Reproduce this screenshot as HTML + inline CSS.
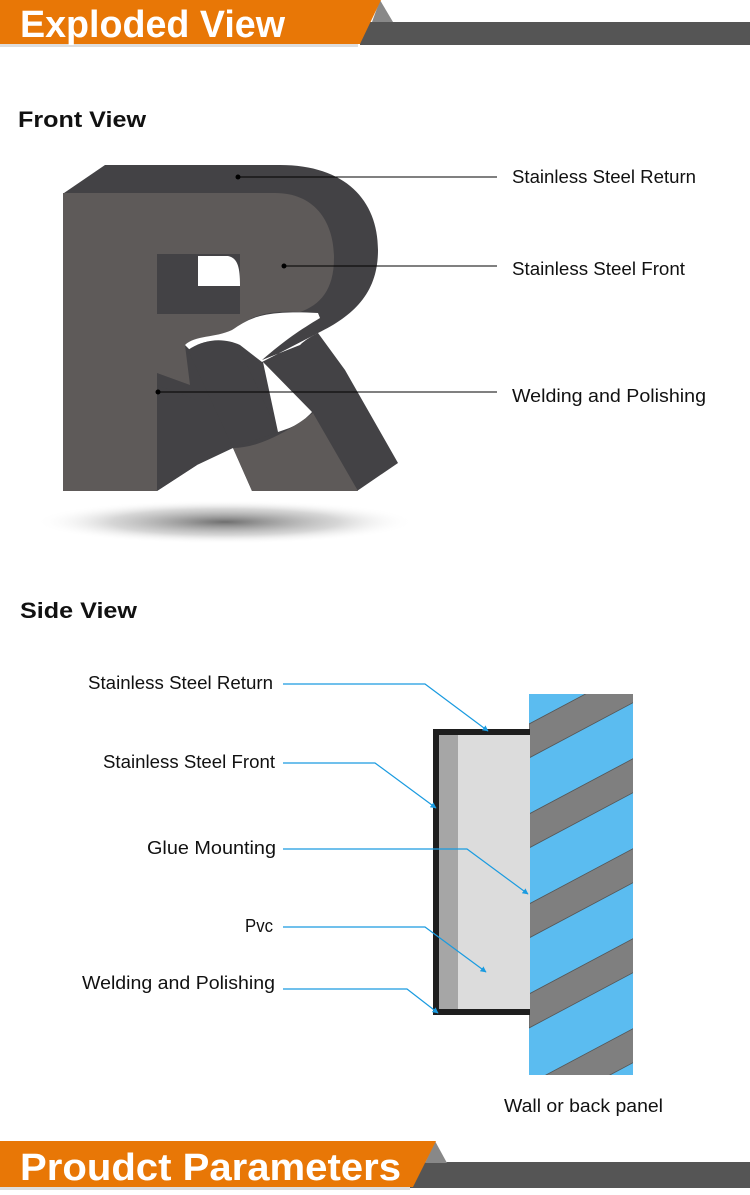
<!DOCTYPE html>
<html><head><meta charset="utf-8"><style>
html,body{margin:0;padding:0;background:#fff;}
svg{display:block;}
text{font-family:"Liberation Sans",sans-serif;}
</style></head><body>
<svg width="750" height="1195" viewBox="0 0 750 1195" xmlns="http://www.w3.org/2000/svg">
<defs>
<radialGradient id="sh" cx="0.5" cy="0.5" r="0.5">
<stop offset="0" stop-color="#555" stop-opacity="0.85"/>
<stop offset="0.6" stop-color="#999" stop-opacity="0.4"/>
<stop offset="1" stop-color="#fff" stop-opacity="0"/>
</radialGradient>
<clipPath id="wall"><rect x="529" y="694" width="104" height="381"/></clipPath>
<marker id="ar" viewBox="0 0 10 10" refX="9" refY="5" markerWidth="5" markerHeight="5" orient="auto"><path d="M0,0 L10,5 L0,10 Z" fill="#1a9be0"/></marker>
</defs>

<!-- top banner -->
<rect x="360" y="22" width="390" height="23" fill="#555"/>
<polygon points="380,0 393,22 372,22" fill="#888"/>
<polygon points="0,0 381,0 360,44 0,44" fill="#e87706"/>
<rect x="0" y="44" width="358" height="3" fill="#ddd"/>
<text x="20" y="37" font-size="38" font-weight="bold" fill="#fff" textLength="265" lengthAdjust="spacingAndGlyphs">Exploded View</text>

<text x="18" y="127" font-size="22" font-weight="bold" fill="#111" textLength="128" lengthAdjust="spacingAndGlyphs">Front View</text>

<!-- shadow -->
<ellipse cx="225" cy="522" rx="190" ry="22" fill="url(#sh)"/>

<!-- R back/dark -->
<path d="M64,193 L105,165 L280,165 C345,165 378,200 378,250 C378,292 355,315 318,333 L345,370 L398,463 L357,491 L252,491 L233,448 L197,465 L157,491 L157,254 Z" fill="#434245"/>
<!-- front face -->
<path d="M63,193 L275,193 C315,193 334,222 334,258 C334,290 320,305 300,312 C270,310 250,315 235,330 C220,340 200,340 185,345 L190,385 L157,373 L157,491 L63,491 Z" fill="#5e5a59"/>
<!-- counter -->
<rect x="157" y="254" width="83" height="60" fill="#434245"/>
<path d="M198,256 L228,256 C238,258 240,268 240,286 L198,286 Z" fill="#fff"/>
<!-- white gap -->
<path d="M185,345 C195,335 215,338 232,330 C250,318 262,310 318,313 L320,318 C300,330 285,340 262,360 L300,345 C305,340 312,336 318,333 L262,362 L240,345 C225,338 205,338 190,350 Z" fill="#fff"/>
<!-- dark leg -->
<path d="M188,350 C205,338 225,338 240,350 L278,432 L233,448 Z" fill="#434245"/>
<path d="M263,362 L312,412 C300,425 290,428 278,432 Z" fill="#fff"/>
<path d="M233,448 C260,448 290,430 313,413 L358,491 L252,491 Z" fill="#5e5a59"/>
<polygon points="157,491 197,465 197,400 157,385" fill="#434245"/>

<!-- front view leaders -->
<g stroke="#000" stroke-width="1">
<line x1="238" y1="177" x2="497" y2="177"/>
<line x1="284" y1="266" x2="497" y2="266"/>
<line x1="158" y1="392" x2="497" y2="392"/>
</g>
<circle cx="238" cy="177" r="2.5" fill="#000"/>
<circle cx="284" cy="266" r="2.5" fill="#000"/>
<circle cx="158" cy="392" r="2.5" fill="#000"/>
<g font-size="18" fill="#111">
<text x="512" y="183" textLength="184" lengthAdjust="spacingAndGlyphs">Stainless Steel Return</text>
<text x="512" y="275" textLength="173" lengthAdjust="spacingAndGlyphs">Stainless Steel Front</text>
<text x="512" y="402" textLength="194" lengthAdjust="spacingAndGlyphs">Welding and Polishing</text>
</g>

<text x="20" y="618" font-size="22" font-weight="bold" fill="#111" textLength="117" lengthAdjust="spacingAndGlyphs">Side View</text>

<!-- wall -->
<g clip-path="url(#wall)">
<rect x="529" y="694" width="104" height="381" fill="#5bbcf0"/>
<g fill="#7f7f7f" stroke="#555" stroke-width="0.8">
<polygon points="529,668 640,609 640,575 529,634"/>
<polygon points="529,758 640,699 640,665 529,724"/>
<polygon points="529,848 640,789 640,755 529,814"/>
<polygon points="529,938 640,879 640,845 529,904"/>
<polygon points="529,1028 640,969 640,935 529,994"/>
<polygon points="529,1118 640,1059 640,1025 529,1084"/>
</g>
</g>
<!-- box -->
<rect x="433" y="729" width="97" height="286" fill="#1e1e1e"/>
<rect x="439" y="735" width="91" height="274" fill="#dcdcdc"/>
<rect x="439" y="735" width="19" height="274" fill="#a6a6a6"/>

<!-- side leaders -->
<g stroke="#1a9be0" stroke-width="1.2" fill="none" marker-end="url(#ar)">
<polyline points="283,684 425,684 488,731"/>
<polyline points="283,763 375,763 436,808"/>
<polyline points="283,849 467,849 528,894"/>
<polyline points="283,927 425,927 486,972"/>
<polyline points="283,989 407,989 438,1013"/>
</g>
<g font-size="18" fill="#111">
<text x="88" y="689" textLength="185" lengthAdjust="spacingAndGlyphs">Stainless Steel Return</text>
<text x="103" y="768" textLength="172" lengthAdjust="spacingAndGlyphs">Stainless Steel Front</text>
<text x="147" y="854" textLength="129" lengthAdjust="spacingAndGlyphs">Glue Mounting</text>
<text x="245" y="932" textLength="28" lengthAdjust="spacingAndGlyphs">Pvc</text>
<text x="82" y="989" textLength="193" lengthAdjust="spacingAndGlyphs">Welding and Polishing</text>
<text x="504" y="1112" textLength="159" lengthAdjust="spacingAndGlyphs">Wall or back panel</text>
</g>

<!-- bottom banner -->
<rect x="410" y="1162" width="340" height="26" fill="#555"/>
<polygon points="435,1141 447,1163 425,1163" fill="#888"/>
<polygon points="0,1141 436,1141 413,1187 0,1187" fill="#e87706"/>
<rect x="0" y="1187" width="410" height="3" fill="#ddd"/>
<text x="20" y="1180" font-size="38" font-weight="bold" fill="#fff" textLength="381" lengthAdjust="spacingAndGlyphs">Proudct Parameters</text>
</svg>
</body></html>
